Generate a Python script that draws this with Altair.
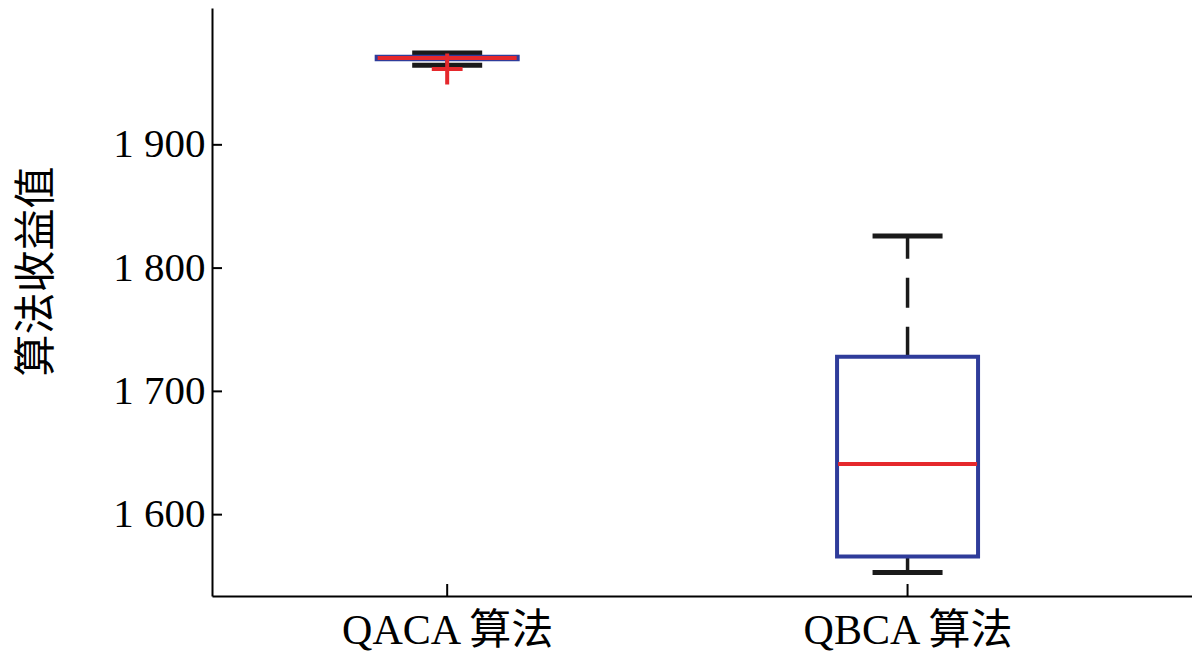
import altair as alt
import pandas as pd

categories = ["QACA 算法", "QBCA 算法"]
positions = [1, 2]
lower_whisker = [1964.5, 1553]
q1 = [1969.5, 1566]
median = [1970.5, 1641]
q3 = [1971.5, 1728]
upper_whisker = [1974.5, 1826]
outlier_pos = [1]
outlier_val = [1961.5]
y_ticks = [1600, 1700, 1800, 1900]

W, H = 980, 588
BLUE = "#2F3C9A"
RED = "#E5282C"
BLACK = "#1a1a1a"
FONT = "Liberation Serif, Noto Sans CJK SC"

df = pd.DataFrame({"pos": positions, "cat": categories, "lw": lower_whisker,
                   "q1": q1, "med": median, "q3": q3, "uw": upper_whisker})
out_df = pd.DataFrame({"pos": outlier_pos, "v": outlier_val})
tick_df = pd.DataFrame({"v": y_ticks})

xscale = alt.Scale(domain=[0.5, 2.607], nice=False, zero=False)
yscale = alt.Scale(domain=[1534, 2011], nice=False, zero=False)

label_expr = "datum.value == 1 ? '%s' : (datum.value == 2 ? '%s' : '')" % (categories[0], categories[1])

xaxis = alt.Axis(values=positions, labelExpr=label_expr, title=None, labelFont=FONT,
                 labelFontSize=42, labelPadding=14, labelColor="black", ticks=False, tickSize=0,
                 labelLimit=0, labelOverlap=False)
yaxis = alt.Axis(values=y_ticks, labelExpr="replace(format(datum.value, ','), ',', ' ')",
                 title="算法收益值", titleFont="Noto Sans CJK SC", titleFontSize=42,
                 titleFontWeight="normal", titleColor="black", titleX=-176, titleY=263,
                 titleAlign="center", titleBaseline="middle", titleAngle=270,
                 titleLimit=0,
                 labelFont="Liberation Serif", labelFontSize=41, labelPadding=7,
                 labelColor="black", ticks=False, tickSize=0)

base = alt.Chart(df)

whisk_up = base.mark_rule(color=BLACK, strokeWidth=3.5, strokeDash=[30, 19]).encode(
    x=alt.X("pos:Q", scale=xscale, axis=xaxis),
    y=alt.Y("q3:Q", scale=yscale, axis=yaxis),
    y2="uw:Q")
whisk_lo = base.mark_rule(color=BLACK, strokeWidth=3.5, strokeDash=[30, 19]).encode(
    x="pos:Q", y="q1:Q", y2="lw:Q")
cap_up = base.mark_tick(orient="horizontal", size=70, thickness=5, color=BLACK, opacity=1).encode(
    x="pos:Q", y="uw:Q")
cap_lo = base.mark_tick(orient="horizontal", size=70, thickness=5, color=BLACK, opacity=1).encode(
    x="pos:Q", y="lw:Q")
box = base.mark_bar(size=141, fill="white", stroke=BLUE, strokeWidth=4).encode(
    x="pos:Q", y="q1:Q", y2="q3:Q")
med = base.mark_tick(orient="horizontal", size=139, thickness=4, color=RED, opacity=1).encode(
    x="pos:Q", y="med:Q")
outl = alt.Chart(out_df).mark_point(shape="M-1,0H1M0,-1V1", size=950, stroke=RED,
                                    strokeWidth=4, filled=False, opacity=1).encode(
    x="pos:Q", y="v:Q")
ytk = alt.Chart(tick_df).mark_rule(color="black", strokeWidth=2).encode(
    y="v:Q", x=alt.value(0), x2=alt.value(10))
xtk = base.mark_rule(color="black", strokeWidth=2).encode(
    x="pos:Q", y=alt.value(H), y2=alt.value(H - 12))

chart = alt.layer(whisk_up, whisk_lo, cap_up, cap_lo, box, med, outl, ytk, xtk).properties(
    width=W, height=H,
    autosize=alt.AutoSizeParams(type="none"),
    padding={"left": 204, "top": 0, "right": 0, "bottom": 62},
    background="white",
).configure_view(stroke=None).configure_axis(
    domainColor="black", domainWidth=2, grid=False
)

chart.save("out.html", embed_options={"renderer": "svg", "actions": False})
